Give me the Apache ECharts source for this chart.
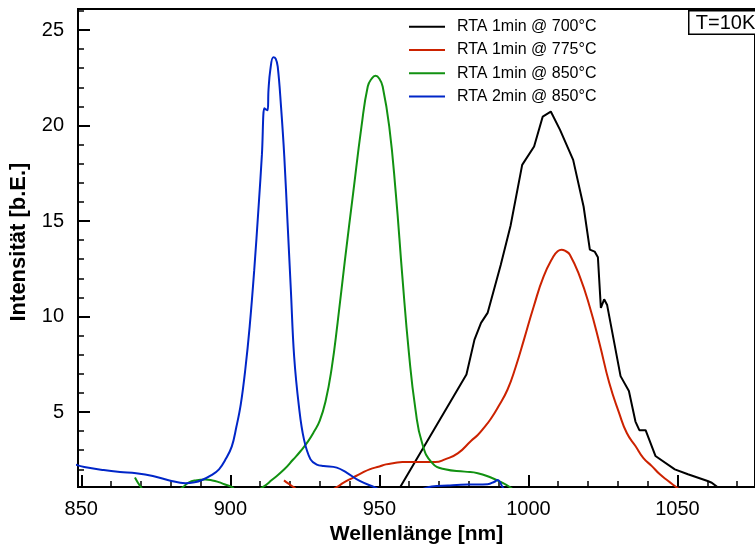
<!DOCTYPE html>
<html>
<head>
<meta charset="utf-8">
<script src="https://cdn.jsdelivr.net/npm/echarts@6/dist/echarts.min.js"></script>
<style>
  html, body { margin: 0; padding: 0; background: #fff; }
  #chart { width: 755px; height: 550px; }
</style>
</head>
<body>
<div id="chart"></div>
<script>
// Photoluminescence spectra after rapid thermal annealing, measured at 10 K.
const seriesNames = ['RTA 1min @ 700°C', 'RTA 1min @ 775°C', 'RTA 1min @ 850°C', 'RTA 2min @ 850°C'];
const seriesColors = ['#000000', '#cc2200', '#119111', '#0026c8'];

// RTA 1min @ 700°C (raw, piecewise linear)
const nm700 = [954, 957.0, 979.2, 981.9, 984.1, 986.3, 990.7, 994.0, 997.9, 1001.9, 1004.8, 1007.5, 1010.6, 1015.0, 1018.5, 1020.6, 1022.2, 1023.3, 1024.3, 1025.4, 1026.4, 1030.9, 1033.7, 1035.9, 1037.2, 1039.3, 1042.6, 1049.1, 1053.5, 1060.1, 1061.5, 1063.4, 1065];
const int700 = [0.27, 1.07, 6.97, 8.79, 9.67, 10.19, 12.7, 14.75, 17.94, 18.9, 20.47, 20.73, 19.77, 18.2, 15.76, 13.5, 13.4, 13.1, 10.45, 10.9, 10.6, 6.88, 6.1, 4.5, 4.05, 4.05, 2.7, 2.0, 1.74, 1.39, 1.3, 1.07, 0.8];

// RTA 1min @ 775°C
const nm775 = [918.0, 919.5, 921.2, 924, 930, 935.7, 938, 941.2, 944, 946.7, 950, 952.2, 955, 957.7, 963.2, 968.7, 972, 976.4, 980.8, 983, 985.2, 987.4, 989.6, 993, 995.8, 998.5, 1001.8, 1005.1, 1008.4, 1009.8, 1011.1, 1012.5, 1013.9, 1017.2, 1020.5, 1023.8, 1027.1, 1030.4, 1033, 1035.9, 1038.5, 1041.4, 1044, 1046.9, 1049.1, 1051];
const int775 = [1.42, 1.25, 1.07, 0.75, 0.6, 1.07, 1.3, 1.57, 1.8, 2.0, 2.15, 2.26, 2.33, 2.38, 2.38, 2.38, 2.52, 2.85, 3.5, 3.8, 4.2, 4.65, 5.2, 6.18, 7.4, 8.79, 10.54, 12.1, 13.15, 13.42, 13.5, 13.42, 13.24, 12.1, 10.54, 8.62, 6.53, 4.96, 3.9, 3.22, 2.6, 2.17, 1.75, 1.39, 1.13, 0.9];

// RTA 1min @ 850°C
const nm850 = [868.0, 869.0, 870.0, 872, 878, 883.9, 886, 888.3, 891.6, 894, 896.1, 898, 900.4, 903, 907, 910.9, 914, 918.1, 921, 923.6, 926, 928, 930, 932, 934, 936, 938.4, 941.2, 944.0, 946.1, 947.4, 948.7, 950.0, 951.1, 953.3, 955.5, 957.7, 959.9, 962.1, 964.3, 967.6, 972, 978.6, 983, 987.4, 990.7, 994, 996];
const int850 = [1.57, 1.3, 1.07, 0.7, 0.5, 1.05, 1.3, 1.42, 1.47, 1.42, 1.33, 1.22, 1.08, 0.8, 0.8, 1.07, 1.45, 2.0, 2.5, 2.96, 3.45, 3.95, 4.55, 5.6, 7.3, 9.7, 12.9, 16.46, 19.95, 22.04, 22.45, 22.6, 22.45, 22.04, 19.95, 16.46, 12.1, 8.1, 5.14, 3.39, 2.35, 2.0, 1.88, 1.8, 1.57, 1.34, 1.05, 0.8];

// RTA 2min @ 850°C
const nm850b = [848, 851, 857.5, 863, 868.4, 874, 879.6, 884.9, 888, 890.5, 893.5, 896.2, 898.5, 900.5, 902, 903.5, 905, 906.5, 908, 909.5, 910.6, 911.4, 911.9, 912.5, 912.8, 913.4, 914.4, 915.2, 915.9, 917.0, 918.1, 919.2, 920.3, 921.4, 923.0, 924.7, 926.9, 929, 931.3, 935.7, 939.0, 943.4, 948.3, 952, 958, 964, 967.6, 973, 979.7, 986.3, 988.6, 989.6, 990.4, 991.2, 992.5];
const int850b = [2.25, 2.12, 1.96, 1.86, 1.79, 1.65, 1.42, 1.27, 1.32, 1.44, 1.68, 2.0, 2.55, 3.2, 4.2, 5.4, 7.2, 9.5, 12.4, 15.8, 18.5, 20.9, 20.85, 20.8, 21.86, 22.9, 23.57, 23.5, 23.08, 21.0, 18.38, 14.9, 11.4, 7.92, 5.31, 3.57, 2.52, 2.25, 2.17, 2.09, 1.83, 1.39, 1.07, 0.85, 0.8, 0.95, 1.1, 1.15, 1.2, 1.22, 1.35, 1.44, 1.35, 1.1, 0.8];

// Axis ticks
const xMajorTicks = [850, 900, 950, 1000, 1050];
const xMinorTicks = [860, 870, 880, 890, 910, 920, 930, 940, 960, 970, 980, 990, 1010, 1020, 1030, 1040, 1060, 1070];
const yMajorTicks = [5, 10, 15, 20, 25];
const yMinorTicks = [2, 3, 4, 6, 7, 8, 9, 11, 12, 13, 14, 16, 17, 18, 19, 21, 22, 23, 24, 26];

const X_MIN = 848.9, X_MAX = 1076;
const Y_MIN = 1.07, Y_MAX = 26.1;

const FONT = '"Liberation Sans", Arial, Helvetica, sans-serif';

function zip(xs, ys) { return xs.map((x, i) => [x, ys[i]]); }

const spectra = [
  { x: nm700, y: int700, smooth: false },
  { x: nm775, y: int775, smooth: 0.5 },
  { x: nm850, y: int850, smooth: 0.5 },
  { x: nm850b, y: int850b, smooth: 0.4 }
];

const chart = echarts.init(document.getElementById('chart'), null, { renderer: 'canvas' });

const option = {
  animation: false,
  backgroundColor: '#ffffff',
  grid: {
    left: 74, top: 9, width: 687.4, height: 478.7,
    show: true, borderColor: '#000', borderWidth: 2, backgroundColor: 'transparent'
  },
  legend: {
    orient: 'vertical',
    left: 409, top: 18.7,
    padding: 0,
    itemWidth: 36, itemHeight: 2, itemGap: 7.3,
    icon: 'rect',
    textStyle: { fontFamily: FONT, fontSize: 16, lineHeight: 16, color: '#000', padding: [0, 0, 0, 7] },
    data: seriesNames
  },
  xAxis: [
    {
      type: 'value', min: X_MIN, max: X_MAX, position: 'bottom',
      name: 'Wellenlänge [nm]', nameLocation: 'middle', nameGap: 35,
      nameTextStyle: { fontFamily: FONT, fontSize: 21, fontWeight: 'bold', color: '#000' },
      axisLine: { show: false },
      axisTick: { show: true, inside: true, length: 12, lineStyle: { color: '#000', width: 2 }, customValues: xMajorTicks },
      axisLabel: { fontFamily: FONT, fontSize: 20, color: '#000', margin: 12, customValues: xMajorTicks, formatter: v => String(v) },
      splitLine: { show: false }
    },
    {
      type: 'value', min: X_MIN, max: X_MAX, position: 'bottom',
      axisLine: { show: false },
      axisTick: { show: true, inside: true, length: 6, lineStyle: { color: '#000', width: 1.5 }, customValues: xMinorTicks },
      axisLabel: { show: false },
      splitLine: { show: false }
    }
  ],
  yAxis: [
    {
      type: 'value', min: Y_MIN, max: Y_MAX, position: 'left',
      name: 'Intensität [b.E.]', nameLocation: 'middle', nameGap: 48,
      nameTextStyle: { fontFamily: FONT, fontSize: 22, fontWeight: 'bold', color: '#000', padding: [0, 0, 0, 12] },
      axisLine: { show: false },
      axisTick: { show: true, inside: true, length: 12, lineStyle: { color: '#000', width: 2 }, customValues: yMajorTicks },
      axisLabel: { fontFamily: FONT, fontSize: 20, color: '#000', margin: 14, padding: [5, 0, 0, 0], customValues: yMajorTicks, formatter: v => String(v) },
      splitLine: { show: false }
    },
    {
      type: 'value', min: Y_MIN, max: Y_MAX, position: 'left',
      axisLine: { show: false },
      axisTick: { show: true, inside: true, length: 6, lineStyle: { color: '#000', width: 1.5 }, customValues: yMinorTicks },
      axisLabel: { show: false },
      splitLine: { show: false }
    }
  ],
  series: spectra.map((s, i) => ({
    name: seriesNames[i],
    type: 'line',
    xAxisIndex: 0, yAxisIndex: 0,
    data: zip(s.x, s.y),
    smooth: s.smooth,
    showSymbol: false,
    symbol: 'none',
    clip: true,
    color: seriesColors[i],
    lineStyle: { color: seriesColors[i], width: 2 },
    emphasis: { disabled: true }
  })),
  graphic: [
    {
      type: 'group', left: 688, top: 10,
      children: [
        { type: 'rect', shape: { x: 0, y: 0, width: 90, height: 23.5 }, style: { fill: '#fff', stroke: '#000', lineWidth: 1.5 } },
        { type: 'text', x: 7, y: 12.5, style: { text: 'T=10K', font: '20px ' + FONT, fill: '#000', verticalAlign: 'middle', align: 'left' } }
      ]
    }
  ]
};

chart.setOption(option);
</script>
</body>
</html>
